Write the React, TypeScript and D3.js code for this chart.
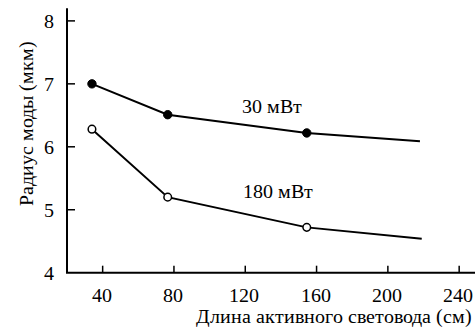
import React from "react";
import * as d3 from "d3";

const lengths30 = [34, 76.5, 154.5, 218];
const radius30 = [7.0, 6.51, 6.22, 6.09];
const markers30 = [true, true, true, false];
const lengths180 = [34, 76.5, 154.5, 219];
const radius180 = [6.28, 5.2, 4.72, 4.54];
const markers180 = [true, true, true, false];
const xTicks = [40, 80, 120, 160, 200, 240];
const yTicks = [4, 5, 6, 7, 8];
const seriesLabels = ["30 мВт", "180 мВт"];
const xTitle = "Длина активного световода (см)";
const yTitle = "Радиус моды (мкм)";

const W = 475;
const H = 329;
const FONT = "ChartSerif, 'Times New Roman', serif";
const FONT_CSS = `@font-face { font-family: 'ChartSerif'; src: local('Liberation Serif'), local('LiberationSerif'), local('LiberationSerif-Regular'), local('Times New Roman'), local('DejaVu Serif'); }
.t { font-family: ChartSerif, 'Times New Roman', serif; }`;

export default function App() {
  const x = d3.scaleLinear().domain([20, 250]).range([67, 477]);
  const y = d3.scaleLinear().domain([4, 8.2]).range([272.7, 8.3]);
  const line = d3
    .line<[number, number]>()
    .x((d) => x(d[0]))
    .y((d) => y(d[1]));
  const s30: [number, number][] = lengths30.map((v, i) => [v, radius30[i]]);
  const s180: [number, number][] = lengths180.map((v, i) => [v, radius180[i]]);
  const x0 = x(20);
  const y0 = y(4);

  return (
    <svg width={W} height={H} style={{ position: "absolute", left: 0, top: 0 }}>
      <style>{FONT_CSS}</style>
      <rect width={W} height={H} fill="#fff" />
      <line x1={x0} x2={x0} y1={y(8.2)} y2={y0} stroke="#000" strokeWidth={2} />
      <line x1={x0 - 1} x2={W} y1={y0} y2={y0} stroke="#000" strokeWidth={2} />
      {yTicks.map((t) => (
        <g key={"y" + t}>
          {t !== 4 && (
            <line x1={x0} x2={x0 + 8} y1={y(t)} y2={y(t)} stroke="#000" strokeWidth={1.5} />
          )}
          <text className="t" x={53.5} y={y(t) + 7} textAnchor="end" fontSize={20} fill="#000" fontFamily={FONT}>
            {t}
          </text>
        </g>
      ))}
      {xTicks.map((t) => (
        <g key={"x" + t}>
          <line x1={x(t)} x2={x(t)} y1={y0} y2={y0 - 7} stroke="#000" strokeWidth={1.5} />
          <text className="t" x={x(t) - 1} y={302} textAnchor="middle" fontSize={20} fill="#000" fontFamily={FONT}>
            {t}
          </text>
        </g>
      ))}
      <text className="t" x={472} y={323} textAnchor="end" fontSize={20} fill="#000" fontFamily={FONT}>
        {xTitle}
      </text>
      <text
        className="t"
        transform={`translate(33,123.5) rotate(-90)`}
        textAnchor="middle"
        fontSize={20}
        fill="#000"
        fontFamily={FONT}
      >
        {yTitle}
      </text>
      <path d={line(s30) || ""} fill="none" stroke="#000" strokeWidth={2} />
      <path d={line(s180) || ""} fill="none" stroke="#000" strokeWidth={2} />
      {s30.map((d, i) =>
        markers30[i] ? (
          <circle key={"a" + i} cx={x(d[0])} cy={y(d[1])} r={4.2} fill="#000" stroke="#000" strokeWidth={1} />
        ) : null
      )}
      {s180.map((d, i) =>
        markers180[i] ? (
          <circle key={"b" + i} cx={x(d[0])} cy={y(d[1])} r={3.8} fill="#fff" stroke="#000" strokeWidth={1.5} />
        ) : null
      )}
      <text className="t" x={242} y={113} fontSize={20} fill="#000" fontFamily={FONT}>
        {seriesLabels[0]}
      </text>
      <text className="t" x={243} y={198} fontSize={20} fill="#000" fontFamily={FONT}>
        {seriesLabels[1]}
      </text>
    </svg>
  );
}
